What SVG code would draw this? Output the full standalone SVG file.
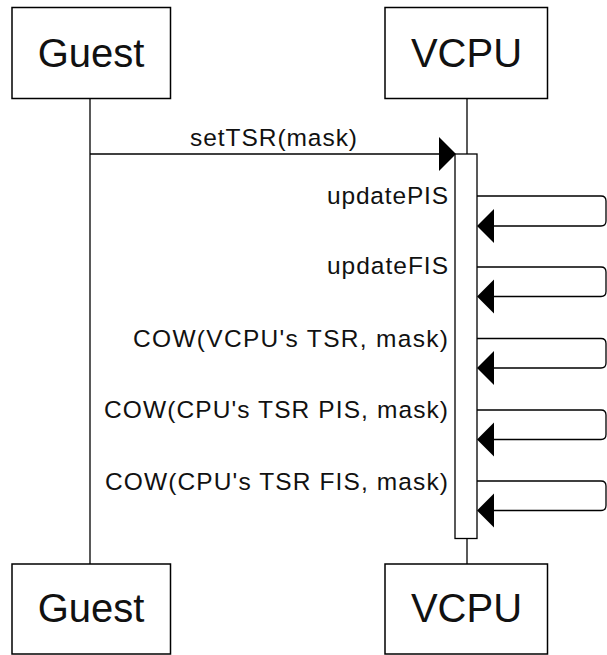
<svg xmlns="http://www.w3.org/2000/svg" width="607" height="655" viewBox="0 0 607 655">
  <style>
    .box { fill: #ffffff; stroke: #000000; stroke-width: 1.5; }
    .line { fill: none; stroke: #000000; stroke-width: 1.3; }
    .head { fill: #000000; stroke: none; }
    .title { font-family: "Liberation Sans", Arial, sans-serif; font-size: 40px; fill: #111111; text-anchor: middle; }
    .label { font-family: "Liberation Sans", Arial, sans-serif; font-size: 24.5px; fill: #111111; }
  </style>
  <rect width="607" height="655" fill="#ffffff"/>

  <!-- lifelines and messages -->
  <g id="connectors">
    <line class="line" x1="90" y1="98" x2="90" y2="564"/>
    <line class="line" x1="467" y1="98" x2="467" y2="564"/>

    <!-- setTSR(mask) call -->
    <line class="line" x1="90" y1="154" x2="441" y2="154"/>
    <polygon class="head" points="456,154 439,137 439,171"/>
    <text class="label" x="273.5" y="146" text-anchor="middle" textLength="167" lengthAdjust="spacing">setTSR(mask)</text>
  </g>

  <!-- activation bar on VCPU -->
  <g id="activation">
    <rect class="box" x="455" y="154" width="22" height="384.5" style="stroke-width:1.3"/>
  </g>

  <!-- self calls on VCPU -->
  <g id="self-calls">
    <path class="line" d="M477,196 H601 Q606,196 606,201 V221 Q606,226 601,226 H492"/>
    <polygon class="head" points="477,226 494,209 494,243"/>
    <text class="label" x="448" y="204" text-anchor="end" textLength="121" lengthAdjust="spacing">updatePIS</text>

    <path class="line" d="M477,267 H601 Q606,267 606,272 V291.5 Q606,296.5 601,296.5 H492"/>
    <polygon class="head" points="477,296.5 494,279.5 494,313.5"/>
    <text class="label" x="448" y="274" text-anchor="end" textLength="121" lengthAdjust="spacing">updateFIS</text>

    <path class="line" d="M477,338.5 H601 Q606,338.5 606,343.5 V363 Q606,368 601,368 H492"/>
    <polygon class="head" points="477,368 494,351 494,385"/>
    <text class="label" x="448" y="346.5" text-anchor="end" textLength="315" lengthAdjust="spacing">COW(VCPU's TSR, mask)</text>

    <path class="line" d="M477,410 H601 Q606,410 606,415 V434.5 Q606,439.5 601,439.5 H492"/>
    <polygon class="head" points="477,439.5 494,422.5 494,456.5"/>
    <text class="label" x="448" y="418" text-anchor="end" textLength="344" lengthAdjust="spacing">COW(CPU's TSR PIS, mask)</text>

    <path class="line" d="M477,481 H601 Q606,481 606,486 V505.5 Q606,510.5 601,510.5 H492"/>
    <polygon class="head" points="477,510.5 494,493.5 494,527.5"/>
    <text class="label" x="448" y="489.5" text-anchor="end" textLength="343" lengthAdjust="spacing">COW(CPU's TSR FIS, mask)</text>
  </g>

  <!-- participant heads -->
  <g id="guest-top">
    <rect class="box" x="12" y="7.5" width="158.5" height="91"/>
    <text class="title" x="91" y="67">Guest</text>
  </g>
  <g id="vcpu-top">
    <rect class="box" x="385" y="7.5" width="162.5" height="91"/>
    <text class="title" x="466.5" y="67">VCPU</text>
  </g>

  <!-- participant feet -->
  <g id="guest-bottom">
    <rect class="box" x="12" y="564" width="158.5" height="90"/>
    <text class="title" x="91" y="621.5">Guest</text>
  </g>
  <g id="vcpu-bottom">
    <rect class="box" x="385" y="564" width="162.5" height="90"/>
    <text class="title" x="466.5" y="621.5">VCPU</text>
  </g>
</svg>
